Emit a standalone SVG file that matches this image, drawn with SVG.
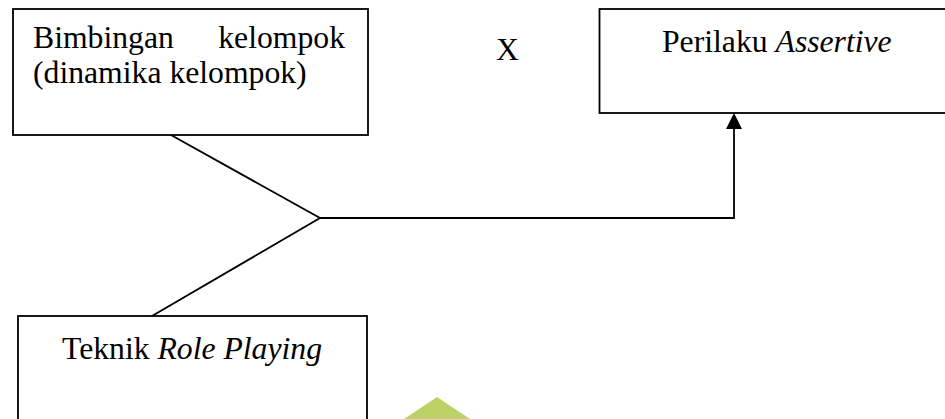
<svg xmlns="http://www.w3.org/2000/svg" width="945" height="419" viewBox="0 0 945 419">
<defs>
<style>
.box{fill:#fff;stroke:#000;stroke-width:1.8}
.t{font-family:"Liberation Serif","Times New Roman",serif;font-size:31.7px;fill:#000}
.i{font-style:italic}
.c{fill:none;stroke:#000;stroke-width:1.8}
</style>
<marker id="ah" markerWidth="16" markerHeight="16" viewBox="0 0 16 16" refX="0" refY="8" orient="auto" markerUnits="userSpaceOnUse">
<path d="M0,0 L16,8 L0,16 Z" fill="#000"/>
</marker>
</defs>
<rect width="945" height="419" fill="#fff"/>
<polygon points="437,397 470,419 404,419" fill="#bcd264"/>
<g id="connectors">
<polyline class="c" points="171,135 320,218 152,316"/>
<polyline class="c" points="320,218 734,218 734,129" marker-end="url(#ah)"/>
</g>
<g id="node-bimbingan">
<rect class="box" x="13" y="9" width="355" height="126"/>
<text class="t" x="33" y="48">Bimbingan</text>
<text class="t" x="345" y="48" text-anchor="end">kelompok</text>
<text class="t" x="33" y="83">(dinamika kelompok)</text>
</g>
<g id="node-x">
<text class="t" x="496" y="60">X</text>
</g>
<g id="node-perilaku">
<rect class="box" x="599.5" y="9" width="360" height="104"/>
<text class="t" x="662" y="52">Perilaku <tspan class="i">Assertive</tspan></text>
</g>
<g id="node-teknik">
<rect class="box" x="18" y="316" width="349" height="120"/>
<text class="t" x="62" y="359">Teknik <tspan class="i">Role Playing</tspan></text>
</g>
</svg>
